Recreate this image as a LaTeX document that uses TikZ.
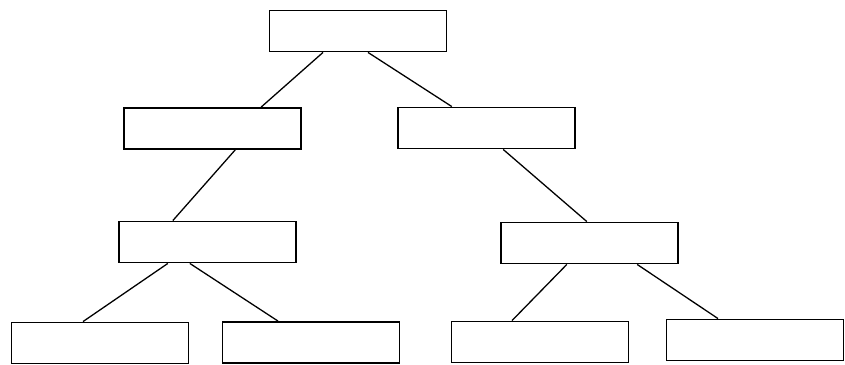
\documentclass[tikz,border=0pt]{standalone}
\usepackage{tikz}

\begin{document}
\begin{tikzpicture}[x=0.03cm, y=-0.03cm]
    % Define styles
    \tikzset{
        box/.style={draw, line width=1.3pt, rectangle, minimum width=5.3cm,
                    minimum height=1.24cm, inner sep=0pt},
        link/.style={line width=1.1pt}
    }

    % Fix the picture size
    \useasboundingbox[fill=white] (0,0) rectangle (845,364);

    % Top box
    \node[box] (root) at (358,31) {};

    % Second row
    \node[box] (lefttwo) at (212.5,128.5) {};
    \node[box] (righttwo) at (486.5,128) {};

    % Third row
    \node[box] (leftthree) at (207.5,242) {};
    \node[box] (rightthree) at (589.5,243) {};

    % Bottom row
    \node[box] (leafa) at (100,343) {};
    \node[box] (leafb) at (311,342.5) {};
    \node[box] (leafc) at (540,342) {};
    \node[box] (leafd) at (755,340) {};

    % Draw the branches
    \draw[link] ([xshift=-1.05cm]root.south) -- ([xshift=1.46cm]lefttwo.north);
    \draw[link] ([xshift=0.30cm]root.south) -- ([xshift=-1.04cm]righttwo.north);
    \draw[link] ([xshift=0.68cm]lefttwo.south) -- ([xshift=-1.04cm]leftthree.north);
    \draw[link] ([xshift=0.50cm]righttwo.south) -- ([xshift=-0.08cm]rightthree.north);
    \draw[link] ([xshift=-1.19cm]leftthree.south) -- ([xshift=-0.51cm]leafa.north);
    \draw[link] ([xshift=-0.53cm]leftthree.south) -- ([xshift=-0.99cm]leafb.north);
    \draw[link] ([xshift=-0.68cm]rightthree.south) -- ([xshift=-0.84cm]leafc.north);
    \draw[link] ([xshift=1.43cm]rightthree.south) -- ([xshift=-1.11cm]leafd.north);

\end{tikzpicture}
\end{document}
